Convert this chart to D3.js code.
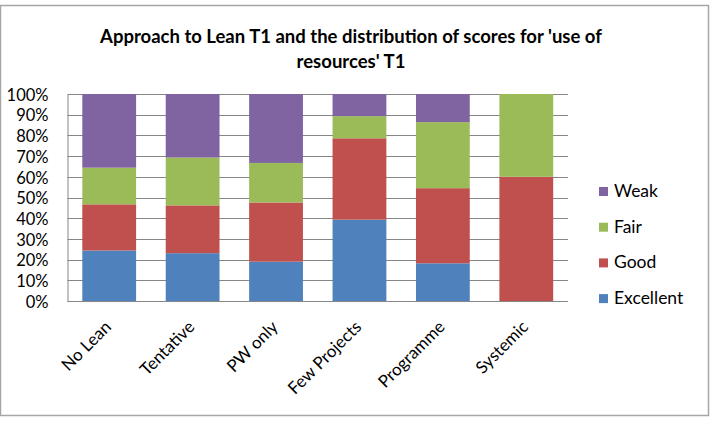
<!DOCTYPE html>
<html><head><meta charset="utf-8">
<script src="https://cdn.jsdelivr.net/npm/d3@7"></script>
<style>body{margin:0;background:#fff}svg{display:block;font-family:Lato,"Open Sans",sans-serif}</style>
</head><body><svg id="c" width="721" height="426"></svg>
<script>
const categories = ["No Lean","Tentative","PW only","Few Projects","Programme","Systemic"];
const seriesNames = ["Excellent","Good","Fair","Weak"];
const excellent = [24.4, 23.1, 19.0, 39.3, 18.2, 0];
const good      = [22.3, 23.1, 28.6, 39.3, 36.3, 60];
const fair      = [17.7, 23.1, 19.1, 10.7, 31.9, 40];
const weak      = [35.6, 30.7, 33.3, 10.7, 13.6, 0];
const yTicks = [0,10,20,30,40,50,60,70,80,90,100];
const colors = {"Excellent":"#4F81BD","Good":"#C0504D","Fair":"#9BBB59","Weak":"#8064A2"};

const svg = d3.select("#c");
const rows = categories.map((c,i)=>({cat:c, Excellent:excellent[i], Good:good[i], Fair:fair[i], Weak:weak[i]}));
const stack = d3.stack().keys(seriesNames)(rows);

const L=67.5, R=568, T=94, B=301;
const x = d3.scaleBand().domain(categories).range([L,R]).paddingInner(0.355).paddingOuter(0.1775);
const y = d3.scaleLinear().domain([0,100]).range([B,T]);

// outer border
svg.append("rect").attr("x",0.5).attr("y",5.5).attr("width",708).attr("height",410)
  .attr("fill","none").attr("stroke","#a6a6a6").attr("stroke-width",1.5);

// title
const title = svg.append("text").attr("text-anchor","middle").attr("font-weight","bold")
  .attr("font-size",18.5).attr("fill","#000");
title.append("tspan").attr("x",351).attr("y",43).text("Approach to Lean T1 and the distribution of scores for 'use of");
title.append("tspan").attr("x",351).attr("y",68).text("resources' T1");

// gridlines
svg.append("g").selectAll("line").data(yTicks).join("line")
  .attr("x1",L).attr("x2",R).attr("y1",d=>Math.round(y(d))+0.5).attr("y2",d=>Math.round(y(d))+0.5)
  .attr("stroke","#868686").attr("stroke-width",1);

// bars
svg.append("g").selectAll("g").data(stack).join("g").attr("fill",d=>colors[d.key])
  .selectAll("rect").data(d=>d).join("rect")
  .attr("x",d=>x(d.data.cat)).attr("width",x.bandwidth())
  .attr("y",d=>y(d[1])).attr("height",d=>y(d[0])-y(d[1]));

// y axis
const yAxis = d3.axisLeft(y).tickValues(yTicks).tickFormat(d=>d+"%").tickSize(0).tickPadding(19);
const ya = svg.append("g").attr("transform",`translate(${L},0)`).call(yAxis);
ya.select(".domain").attr("stroke","#868686");
ya.selectAll("text").attr("font-size",16.5).attr("fill","#000").attr("font-family","Lato").attr("dy","0.38em");

// x axis line
svg.append("line").attr("x1",L).attr("x2",R).attr("y1",B+0.5).attr("y2",B+0.5).attr("stroke","#868686");

// x labels
const xa = svg.append("g").attr("transform",`translate(0,${B})`)
  .call(d3.axisBottom(x).tickSize(0).tickPadding(0));
xa.select(".domain").remove();
xa.selectAll("text").attr("font-size",17).attr("fill","#000").attr("font-family","Lato")
  .attr("text-anchor","end").attr("dy",0)
  .attr("transform","translate(3,27) rotate(-45)");

// legend
const legendItems = ["Weak","Fair","Good","Excellent"];
const lg = svg.append("g").selectAll("g").data(legendItems).join("g")
  .attr("transform",(d,i)=>`translate(601,${191+i*35.7})`);
lg.append("rect").attr("x",-2).attr("y",-4).attr("width",9).attr("height",9).attr("fill",d=>colors[d]);
lg.append("text").attr("x",13).attr("y",6).attr("font-size",17.5).attr("fill","#000").text(d=>d);
</script></body></html>
